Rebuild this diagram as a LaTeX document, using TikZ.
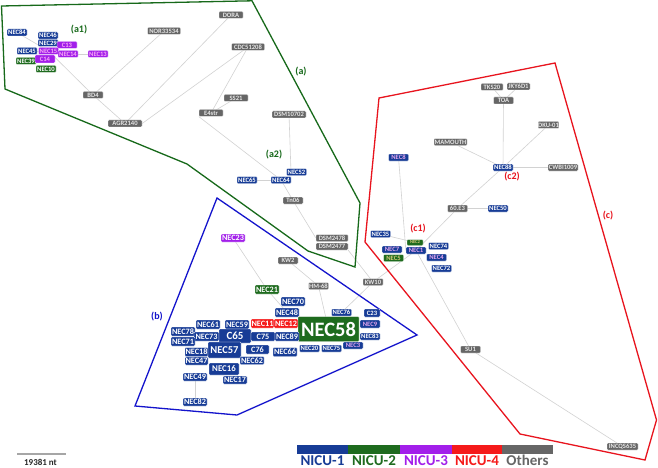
\documentclass[tikz,border=0pt]{standalone}
\usepackage{fontspec}
\setmainfont{Carlito}
\usetikzlibrary{backgrounds}
\definecolor{cb}{HTML}{173C96}
\definecolor{cg}{HTML}{1E6B1E}
\definecolor{cp}{HTML}{A21FEA}
\definecolor{cr}{HTML}{F51A1A}
\definecolor{cgr}{HTML}{666666}
\definecolor{pinkt}{HTML}{E3A5EE}
\definecolor{ppt}{HTML}{F7A8F5}
\definecolor{tant}{HTML}{D6C77A}
\definecolor{grt}{HTML}{E6E6E6}
\definecolor{edgec}{HTML}{D2D2D2}
\definecolor{polyg}{HTML}{17691A}
\definecolor{polyb}{HTML}{1414CC}
\definecolor{polyr}{HTML}{E8141E}
\tikzset{
 bx/.style={rectangle, rounded corners=0.8pt, draw=white, line width=0.3pt, inner sep=0pt,
   font=\fontsize{6.6}{7}\selectfont\bfseries, text=white, minimum width=20pt, minimum height=7pt},
 sb/.style={bx, fill=cb},
 sbp/.style={bx, fill=cb, text=pinkt},
 sg/.style={bx, fill=cg},
 sgt/.style={bx, fill=cg, text=tant},
 sp/.style={bx, fill=cp, text=ppt},
 sr/.style={bx, fill=cr},
 so/.style={bx, fill=cgr, text=grt},
 md/.style={minimum width=24pt, minimum height=9pt, font=\fontsize{8.2}{9}\selectfont\bfseries},
 lbl/.style={font=\fontsize{10}{11}\selectfont\bfseries, inner sep=0pt},
 edge/.style={draw=edgec, line width=0.6pt},
 poly/.style={line width=1.3pt, line join=miter},
 leg/.style={font=\fontsize{15}{16}\selectfont\bfseries, inner sep=0pt, anchor=base},
}
\begin{document}
\begin{tikzpicture}[x=1pt,y=-1pt]
\useasboundingbox (0,0) rectangle (658,468);

% ---- group (a) ----
\node[sb] (n84) at (17,32.5) {NEC84};
\node[sb] (n46) at (48,35.5) {NEC46};
\node[sb] (n29) at (48,43) {NEC29};
\node[sp] (c13) at (67,45) {C13};
\node[sb] (n45) at (27,51) {NEC45};
\node[sp] (n15) at (48.5,51) {NEC15};
\node[sp] (n14) at (68,54) {NEC14};
\node[sp] (n13) at (98,54) {NEC13};
\node[sg] (n39) at (26,61) {NEC39};
\node[sp, minimum height=8pt] (c14) at (45,59) {C14};
\node[sg] (n10) at (46,69) {NEC10};
\node[so, minimum width=33pt] (nor) at (164,31) {NOR33534};
\node[so] (bd4) at (93,95) {BD4};
\node[so, minimum width=34pt] (agr) at (125,123.5) {AGR2140};
\node[so, minimum width=24pt] (dora) at (231,15) {DORA};
\node[so, minimum width=33pt] (cdc) at (248,47) {CDC51208};
\node[so, minimum width=24pt] (ss21) at (236,98) {SS21};
\node[so, minimum width=24pt] (e4) at (211,113) {E4str};
\node[so, minimum width=34pt] (dsm107) at (289,114.5) {DSM10702};
\node[sb] (n52) at (296.5,172) {NEC52};
\node[sb] (n65) at (247,180) {NEC65};
\node[sb] (n64) at (281,180) {NEC64};
\node[so] (tn06) at (293,200.5) {Tn06};
\node[so, minimum width=32pt] (dsm78) at (332,238) {DSM2478};
\node[so, minimum width=32pt] (dsm77) at (332,246.5) {DSM2477};

% ---- group (b) ----
\node[sp, md, text=white, minimum height=8pt] (n23) at (233,238) {NEC23};
\node[so] (kw2) at (288,260.5) {KW2};
\node[so] (hm68) at (318.5,286) {HM-68};
\node[so] (kw10) at (373,282) {KW10};
\node[sg, md] (n21) at (267,289.5) {NEC21};
\node[sb, md] (n70) at (293,301.5) {NEC70};
\node[sb, md] (n48) at (287,312.5) {NEC48};
\node[sb] (n76) at (341.5,312.5) {NEC76};
\node[sb, minimum width=16pt, minimum height=8pt] (c23) at (372,313) {C23};
\node[sr, md, minimum width=23pt] (n11) at (262.5,323.5) {NEC11};
\node[sr, md] (n12) at (286,323.5) {NEC12};
\node[sg, minimum width=61pt, minimum height=25pt, font=\fontsize{20.5}{22}\selectfont\bfseries] (n58) at (328.5,329) {NEC58};
\node[sbp, minimum height=8pt] (n9) at (370,324) {NEC9};
\node[sb] (n83) at (370,336.5) {NEC83};
\node[sbp] (n3) at (353,345.5) {NEC3};
\node[sb, md] (n61) at (208,324.5) {NEC61};
\node[sb, md] (n59) at (237,324.5) {NEC59};
\node[sb, md] (n78) at (183,331.5) {NEC78};
\node[sb, md, minimum width=25pt] (n73) at (206.5,336.5) {NEC73};
\node[sb, minimum width=32pt, minimum height=14pt, font=\fontsize{11}{12}\selectfont\bfseries] (c65) at (235,336) {C65};
\node[sb, md] (c75) at (263,336.5) {C75};
\node[sb, md] (n89) at (287,336.5) {NEC89};
\node[sb, md] (n71) at (183,341.5) {NEC71};
\node[sb, md, minimum width=23pt] (n18) at (196.5,352) {NEC18};
\node[sb, minimum width=33pt, minimum height=16pt, font=\fontsize{10.5}{12}\selectfont\bfseries] (n57) at (224.5,350) {NEC57};
\node[sb, md, minimum width=23pt] (c76) at (257.5,349.5) {C76};
\node[sb, md] (n66) at (285,352) {NEC66};
\node[sb] (n20) at (309.5,348.5) {NEC20};
\node[sb] (n75) at (331.5,348.5) {NEC75};
\node[sb, md, minimum width=23pt, minimum height=8pt] (n47) at (196.5,361) {NEC47};
\node[sb, md, minimum height=8pt] (n62) at (252,360.5) {NEC62};
\node[sb, minimum width=30pt, minimum height=12pt, font=\fontsize{8.8}{10}\selectfont\bfseries] (n16) at (224,369) {NEC16};
\node[sb, md, minimum height=8pt] (n49) at (195,377) {NEC49};
\node[sb, md, minimum height=8pt] (n17) at (235,380) {NEC17};
\node[sb, md, minimum height=8pt] (n82) at (195,402) {NEC82};

% ---- group (c) ----
\node[sbp] (n8) at (398.5,157.5) {NEC8};
\node[so, minimum width=33pt] (mam) at (450.5,142) {MAMOUTH};
\node[so, minimum width=22pt] (tks) at (492,87) {TKS20};
\node[so, minimum width=23pt] (jky) at (518.5,86.5) {JKY6D1};
\node[so] (toa) at (503.5,100.5) {TOA};
\node[so] (dku) at (548.5,125) {DKU-01};
\node[sb] (n88) at (503,167.5) {NEC88};
\node[so, minimum width=30pt] (cwbi) at (563,167.5) {CWBI1009};
\node[so] (e60) at (457.5,208.5) {60.E3};
\node[sb] (n50) at (498,208.5) {NEC50};
\node[sb] (n35) at (380.5,234) {NEC35};
\node[sgt, minimum width=16pt, minimum height=6pt, font=\fontsize{4.6}{5}\selectfont\bfseries] (n2) at (415,242.5) {NEC2};
\node[sb] (n74) at (438.5,246) {NEC74};
\node[sbp] (n7) at (392,249.5) {NEC7};
\node[sbp] (n1) at (416,250.5) {NEC1};
\node[sgt] (n5) at (393.5,258) {NEC5};
\node[sbp] (n4) at (436.5,257.5) {NEC4};
\node[sb] (n72) at (441.5,268.5) {NEC72};
\node[so] (su1) at (470.5,349.5) {SU1};
\node[so, minimum width=31pt] (incqs) at (622.5,446.5) {INCQS635};

% ---- labels ----
\node[lbl, text=polyg] (la1) at (79,30) {(a1)};
\node[lbl, text=polyg] (la) at (301,72) {(a)};
\node[lbl, text=polyg] (la2) at (274,155) {(a2)};
\node[lbl, text=polyb] (lb) at (157,317) {(b)};
\node[lbl, text=polyr] (lc) at (608,216) {(c)};
\node[lbl, text=polyr] (lc1) at (418,229) {(c1)};
\node[lbl, text=polyr] (lc2) at (512,177) {(c2)};

% ---- scale bar ----
\coordinate (sbl) at (17,454);
\coordinate (sbr) at (66,454);
\draw[draw=gray!70, line width=1.2pt] (sbl) -- (sbr);
\node[font=\fontsize{9}{10}\selectfont\bfseries, text=black!85, inner sep=0pt, anchor=base] (sbt) at (40.5,465) {19381 nt};

% ---- legend ----
\fill[cb] (297,445) rectangle (348,454);
\fill[cg] (348,445) rectangle (400,454);
\fill[cp] (400,445) rectangle (452,454);
\fill[cr] (452,445) rectangle (502,454);
\fill[cgr] (502,445) rectangle (553,454);
\node[leg, text=cb] (l1) at (322.5,465.5) {NICU-1};
\node[leg, text=cg] (l2) at (374,465.5) {NICU-2};
\node[leg, text=cp] (l3) at (426,465.5) {NICU-3};
\node[leg, text=cr] (l4) at (477,465.5) {NICU-4};
\node[leg, text=cgr] (l5) at (527.5,465.5) {Others};

\begin{scope}[on background layer]
 \fill[white] (0,0) rectangle (658,468);
 \draw[edge] (n84.center) -- (n15.center);
 \draw[edge] (n45.center) -- (n15.center);
 \draw[edge] (n14.center) -- (n13.center);
 \draw[edge] (n15.center) -- (bd4.center);
 \draw[edge] (bd4.center) -- (nor.center);
 \draw[edge] (bd4.center) -- (agr.center);
 \draw[edge] (agr.center) -- (dora.center);
 \draw[edge] (agr.east) -- (cdc.center);
 \draw[edge] (cdc.center) -- (e4.center);
 \draw[edge] (e4.center) -- (ss21.center);
 \draw[edge] (e4.south west) -- (n64.center);
 \draw[edge] (n65.center) -- (n64.center);
 \draw[edge] (dsm107.center) -- (n64.north east);
 \draw[edge] (n64.center) -- (tn06.center);
 \draw[edge] (tn06.center) -- (dsm78.west);
 \draw[edge] (dsm77.south east) -- (kw10.center);
 \draw[edge] (kw10.center) -- (n1.center);
 \draw[edge] (kw10.center) -- (n76.center);
 \draw[edge] (kw2.center) -- (hm68.center);
 \draw[edge] (hm68.center) -- (n58.center);
 \draw[edge] (n23.center) -- (n21.center);
 \draw[edge] (n21.center) -- (n48.center);
 \draw[edge] (n49.center) -- (n82.center);
 \draw[edge] (n8.center) -- (n1.west);
 \draw[edge] (n35.center) -- (n2.center);
 \draw[edge] (n1.center) -- (e60.center);
 \draw[edge] (e60.center) -- (n50.center);
 \draw[edge] (e60.center) -- (n88.center);
 \draw[edge] (n88.center) -- (mam.center);
 \draw[edge] (n88.center) -- (toa.center);
 \draw[edge] (toa.center) -- (tks.center);
 \draw[edge] (toa.center) -- (jky.center);
 \draw[edge] (n88.center) -- (dku.center);
 \draw[edge] (n88.center) -- (cwbi.center);
 \draw[edge] (n1.center) -- (su1.center);
 \draw[edge] (su1.center) -- (incqs.center);
 \draw[poly, draw=polyg] (1.5,6) -- (252,0.8) -- (360,203) -- (355,267) -- (308,251) -- (187,164) -- (5,89) -- cycle;
 \draw[poly, draw=polyb] (217,198) -- (417,335) -- (237,415) -- (135,406) -- cycle;
 \draw[poly, draw=polyr] (379,98) -- (555,63) -- (656.5,420) -- (645,460) -- (520,434) -- (365,242) -- cycle;
\end{scope}
\end{tikzpicture}
\end{document}
